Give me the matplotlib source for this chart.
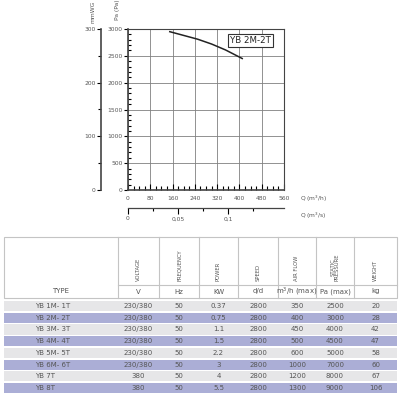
import matplotlib
matplotlib.use("Agg")
import matplotlib.pyplot as plt
from matplotlib.patches import Rectangle
from matplotlib.ticker import MultipleLocator, FixedLocator

# ---- data ----
curve_q = [150, 200, 250, 300, 350, 410]          # m3/h
curve_pa = [2950, 2880, 2810, 2720, 2610, 2450]   # Pa
model_label = "YB 2M-2T"

q_ticks = [0, 80, 160, 240, 320, 400, 480, 560]
pa_ticks = [0, 500, 1000, 1500, 2000, 2500, 3000]
mm_ticks = [0, 100, 200, 300]
qs_ticks = [0, 0.05, 0.1]
qs_labels = ["0", "0,05", "0,1"]

col_names = ["VOLTAGE", "FREQUENCY", "POWER", "SPEED", "AIR FLOW", "STATIC\nPRESSURE", "WEIGHT"]
col_units = ["V", "Hz", "KW", "d/d", "m$^3$/h (max)", "Pa (max)", "kg"]
types = ["YB 1M- 1T", "YB 2M- 2T", "YB 3M- 3T", "YB 4M- 4T", "YB 5M- 5T", "YB 6M- 6T", "YB 7T", "YB 8T"]
voltage = ["230/380"] * 6 + ["380", "380"]
frequency = ["50"] * 8
power = ["0.37", "0.75", "1.1", "1.5", "2.2", "3", "4", "5.5"]
speed = ["2800"] * 8
airflow = ["350", "400", "450", "500", "600", "1000", "1200", "1300"]
static_p = ["2500", "3000", "4000", "4500", "5000", "7000", "8000", "9000"]
weight = ["20", "28", "42", "47", "58", "60", "67", "106"]

W = H = 400.0
fig = plt.figure(figsize=(4, 4), dpi=100)
fig.patch.set_facecolor("white")

def box(l, t, r, b):
    return [l / W, 1 - b / H, (r - l) / W, (b - t) / H]

tc = "#555555"
fs = 4.3

# main chart
ax = fig.add_axes(box(128, 29, 284, 190))
ax.plot(curve_q, curve_pa, color="#222222", lw=1.1)
ax.set_xlim(0, 560)
ax.set_ylim(0, 3000)
ax.xaxis.set_major_locator(FixedLocator(q_ticks))
ax.xaxis.set_minor_locator(MultipleLocator(20))
ax.yaxis.set_major_locator(FixedLocator(pa_ticks))
ax.yaxis.set_minor_locator(MultipleLocator(100))
ax.grid(True, which="major", color="#808080", lw=0.6)
ax.tick_params(axis="x", which="major", direction="in", length=4, width=0.8, labelsize=fs, labelcolor=tc, pad=4)
ax.tick_params(axis="x", which="minor", direction="in", length=3, width=0.8)
ax.tick_params(axis="y", which="major", direction="out", length=3, width=0.8, labelsize=fs, labelcolor=tc, pad=1)
ax.tick_params(axis="y", which="minor", direction="in", length=2.5, width=0.8)
for s in ax.spines.values():
    s.set_color("#444444")
    s.set_linewidth(0.8)
ax.spines["left"].set_linewidth(1.2)
ax.spines["bottom"].set_linewidth(1.2)
ax.text(440, 2790, model_label, ha="center", va="center", fontsize=6.2, color="#222222",
        bbox=dict(boxstyle="square,pad=0.25", fc="white", ec="#333333", lw=0.8))
fig.text(300 / W, 1 - 199 / H, "Q (m$^3$/h)", fontsize=fs, color=tc, va="center")
ax.text(-0.07, 1.12, "Pa (Pa)", transform=ax.transAxes, fontsize=fs, color=tc, rotation=90, ha="center", va="center")

# mmWG axis
axm = fig.add_axes(box(101, 29, 102, 190))
axm.set_ylim(0, 300)
axm.set_xticks([])
for k in ["top", "right", "bottom"]:
    axm.spines[k].set_visible(False)
axm.spines["left"].set_linewidth(1.2)
axm.spines["left"].set_color("#444444")
axm.yaxis.set_major_locator(FixedLocator(mm_ticks))
axm.yaxis.set_minor_locator(MultipleLocator(50))
axm.tick_params(axis="y", which="major", direction="out", length=3, width=0.8, labelsize=fs, labelcolor=tc, pad=1)
axm.tick_params(axis="y", which="minor", direction="out", length=2, width=0.8)
axm.patch.set_alpha(0)
fig.text(93 / W, 1 - 12 / H, "mmWG", fontsize=fs, color=tc, rotation=90, ha="center", va="center")

# m3/s axis
axs = fig.add_axes(box(128, 207, 284, 208))
axs.set_xlim(0, 560 / 3600)
axs.set_yticks([])
for k in ["top", "right", "left"]:
    axs.spines[k].set_visible(False)
axs.spines["bottom"].set_linewidth(0.9)
axs.spines["bottom"].set_color("#444444")
axs.xaxis.set_major_locator(FixedLocator(qs_ticks))
axs.set_xticklabels(qs_labels)
axs.xaxis.set_minor_locator(FixedLocator([0.025, 0.075, 0.125]))
axs.tick_params(axis="x", which="major", direction="out", length=4, width=0.8, labelsize=fs, labelcolor=tc, pad=2)
axs.tick_params(axis="x", which="minor", direction="out", length=2.5, width=0.8)
axs.patch.set_alpha(0)
fig.text(300 / W, 1 - 216 / H, "Q (m$^3$/s)", fontsize=fs, color=tc, va="center")

# ---- table ----
at = fig.add_axes([0, 0, 1, 1])
at.set_xlim(0, W)
at.set_ylim(H, 0)
at.axis("off")
at.patch.set_alpha(0)

lc = "#c4c4c4"
xl, xr = 4, 397
ht, hb, hu = 237, 298, 285
seps = [118, 159, 199, 238, 278, 316, 354]
edges = seps + [xr]
at.add_patch(Rectangle((xl, ht), xr - xl, hb - ht, fill=False, ec=lc, lw=0.8))
for x in seps:
    at.plot([x, x], [ht, hb], color=lc, lw=0.8)
at.plot([seps[0], xr], [hu, hu], color=lc, lw=0.8)
at.text(61, 291, "TYPE", fontsize=5, color=tc, ha="center", va="center")
for i, (nm, un) in enumerate(zip(col_names, col_units)):
    cx = (edges[i] + edges[i + 1]) / 2
    at.text(cx, 281, nm, fontsize=3.8, color=tc, rotation=90, ha="center", va="bottom",
            multialignment="center", linespacing=0.9)
    at.text(cx, 291.5, un, fontsize=5, color=tc, ha="center", va="center")

row_colors = ["#e6e6e8", "#abaed6"]
pitch = 11.7
y0 = 301
cols = [voltage, frequency, power, speed, airflow, static_p, weight]
for r, t in enumerate(types):
    yt = y0 + r * pitch
    at.add_patch(Rectangle((xl, yt), xr - xl, pitch - 1.6, fc=row_colors[r % 2], ec="none"))
    yc = yt + (pitch - 1.6) / 2
    at.text(35, yc, t, fontsize=5, color=tc, ha="left", va="center")
    for i, col in enumerate(cols):
        cx = (edges[i] + edges[i + 1]) / 2
        at.text(cx, yc, col[r], fontsize=5, color=tc, ha="center", va="center")

fig.savefig("out.png", dpi=100)
